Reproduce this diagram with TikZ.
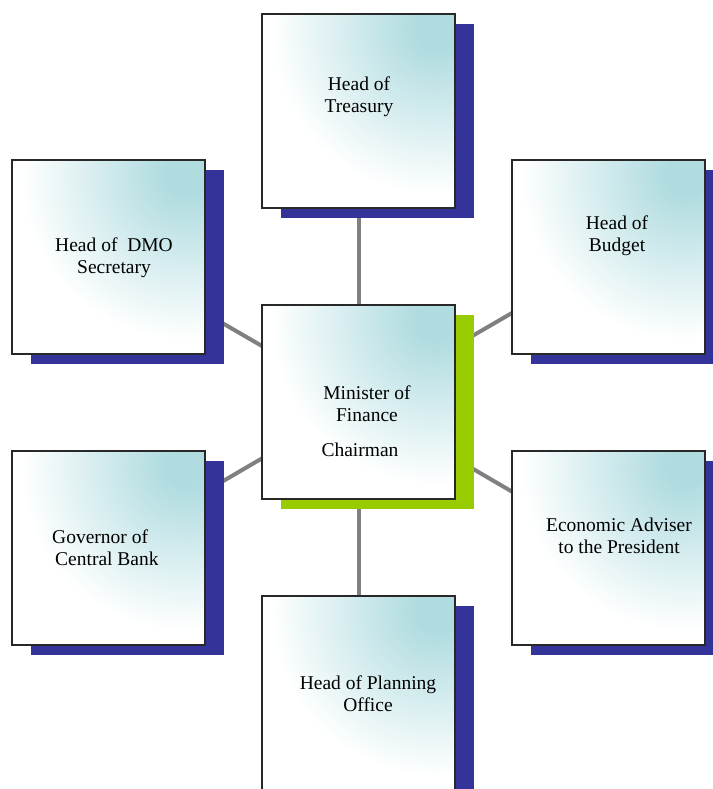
\documentclass[tikz,border=0pt]{standalone}
\usepackage{fontspec}
\setmainfont{Liberation Serif}
\usetikzlibrary{shadows,backgrounds}

\definecolor{shadowblue}{RGB}{51,51,153}
\definecolor{shadowgreen}{RGB}{153,204,0}
\definecolor{glowteal}{RGB}{176,220,224}
\definecolor{linkgray}{RGB}{128,128,128}
\definecolor{edgegray}{RGB}{40,40,40}

% teal glow fading out to white (the shaded circle's rim sits at 25bp)
\pgfdeclareradialshading{cardglow}{\pgfpointorigin}{%
  color(0bp)=(glowteal); color(2.5bp)=(glowteal); color(20.5bp)=(white); color(50bp)=(white)}

\tikzset{
  card/.style={draw=edgegray, line width=1.2pt, minimum width=193pt,
    minimum height=194pt, inner sep=0pt, fill=white,
    general shadow={fill=#1, draw=none, shadow xshift=19pt, shadow yshift=-10pt},
    path picture={\shade[shading=cardglow]
      ([xshift=-20pt,yshift=-16pt]path picture bounding box.north east) circle (200pt);}},
  card/.default=shadowblue,
  cardtext/.style={font=\fontsize{19.5}{22}\selectfont, align=center, inner sep=0pt},
  link/.style={draw=linkgray, line width=4pt}
}

\begin{document}
\begin{tikzpicture}[x=1pt, y=-1pt]
\useasboundingbox (0,0) rectangle (712,789);

% boxes
\node[card] (treasury) at (358.5,111) {};
\node[card=shadowgreen] (minister) at (358.5,402) {};
\node[card] (planning) at (358.5,693) {};
\node[card] (dmo) at (108.5,257) {};
\node[card] (budget) at (608.5,257) {};
\node[card] (governor) at (108.5,548) {};
\node[card] (adviser) at (608.5,548) {};

% labels
\node[cardtext] (treasury-t) at (359,97) {Head of\\Treasury};
\node[cardtext] (minister-t) at (367,404) {Minister of\\Finance};
\node[cardtext] (chair-t) at (360,450) {Chairman};
\node[cardtext] (planning-t) at (368,694) {Head of Planning\\Office};
\node[cardtext] (dmo-t) at (114,258) {Head of\ \ DMO\\Secretary};
\node[cardtext] (budget-t) at (617,236) {Head of\\Budget};
\node[cardtext, align=left, anchor=west] (governor-t) at (52,548) {Governor of\\\hspace*{3pt}Central Bank};
\node[cardtext] (adviser-t) at (619,536) {Economic Adviser\\to the President};

% connectors behind the boxes
\begin{scope}[on background layer]
  \draw[link] (minister.center) -- (treasury.center);
  \draw[link] (minister.center) -- (planning.center);
  \draw[link] (minister.center) -- (dmo.center);
  \draw[link] (minister.center) -- (budget.center);
  \draw[link] (minister.center) -- (governor.center);
  \draw[link] (minister.center) -- (adviser.center);
\end{scope}
\end{tikzpicture}
\end{document}
